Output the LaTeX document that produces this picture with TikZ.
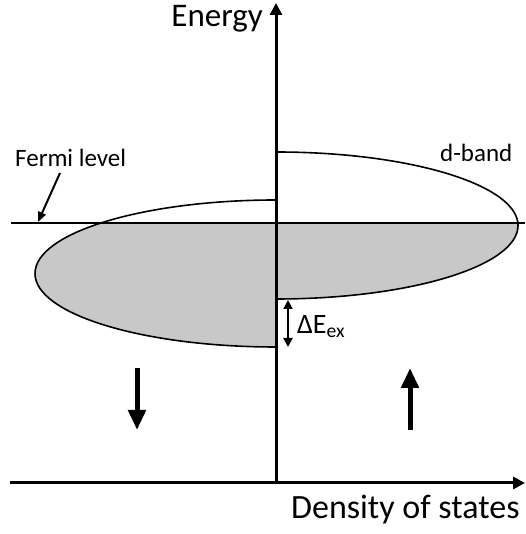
\documentclass[tikz,border=0pt]{standalone}
\usepackage{fontspec}
\setmainfont{Carlito}
\usepackage{tikz}
\usetikzlibrary{arrows.meta}
\definecolor{BandGray}{RGB}{200,200,200}

\begin{document}
\begin{tikzpicture}[
x=1pt,y=1pt,
axis/.style={line width=3pt,-{Triangle[length=12pt,width=12pt]}},
fermi/.style={line width=2.6pt},
band/.style={line width=1.6pt},
spin/.style={line width=5pt,-{Triangle[length=20pt,width=17pt]}},
gap/.style={line width=2pt,{Triangle[length=9pt,width=9pt]}-{Triangle[length=9pt,width=9pt]}},
lbl/.style={inner sep=0pt,anchor=base west,font=\fontsize{25}{29}\selectfont},
big/.style={inner sep=0pt,anchor=base west,font=\fontsize{33}{38}\selectfont}
]
\useasboundingbox (0,0) rectangle (525,534);
% reference points
\coordinate (O) at (276,51);
\coordinate (xend) at (525,51);
\coordinate (xstart) at (10,51);
\coordinate (yend) at (276,531);
\coordinate (fl) at (11,311);
\coordinate (fr) at (525,311);
% filled states below the Fermi level
\begin{scope}
\clip (0,0) rectangle (525,311);
\fill[BandGray] (276,334) arc[start angle=90,end angle=270,x radius=241,y radius=73.5] -- cycle;
\fill[BandGray] (276,382) arc[start angle=90,end angle=-90,x radius=242,y radius=73.5] -- cycle;
\end{scope}
% d-band halves
\draw[band] (276,334) arc[start angle=90,end angle=270,x radius=241,y radius=73.5];
\draw[band] (276,382) arc[start angle=90,end angle=-90,x radius=242,y radius=73.5];
% Fermi level
\draw[fermi] (fl) -- (fr);
% axes
\draw[axis] (xstart) -- (xend);
\draw[axis] (O) -- (yend);
% exchange splitting
\coordinate (gt) at (288,234);
\coordinate (gb) at (288,187);
\draw[gap] (gt) -- (gb);
\node[lbl,font=\fontsize{28}{33}\selectfont] (dE) at (297,200) {ΔE\textsubscript{ex}};
% spin arrows
\coordinate (dn1) at (137,166);
\coordinate (dn2) at (137,104);
\coordinate (up1) at (410,104);
\coordinate (up2) at (410,166);
\draw[spin] (dn1) -- (dn2);
\draw[spin] (up1) -- (up2);
% labels
\node[big,anchor=base east] (en) at (263,507) {Energy};
\node[big,font=\fontsize{34}{39}\selectfont] (dos) at (291,16) {Density of states};
\node[lbl] (fermitxt) at (15,367) {Fermi level};
\coordinate (pt) at (60,361);
\coordinate (ph) at (38,312);
\draw[line width=2pt,-{Triangle[length=10pt,width=8pt]}] (pt) -- (ph);
\node[lbl] (dband) at (440,372) {d-band};
\end{tikzpicture}
\end{document}
